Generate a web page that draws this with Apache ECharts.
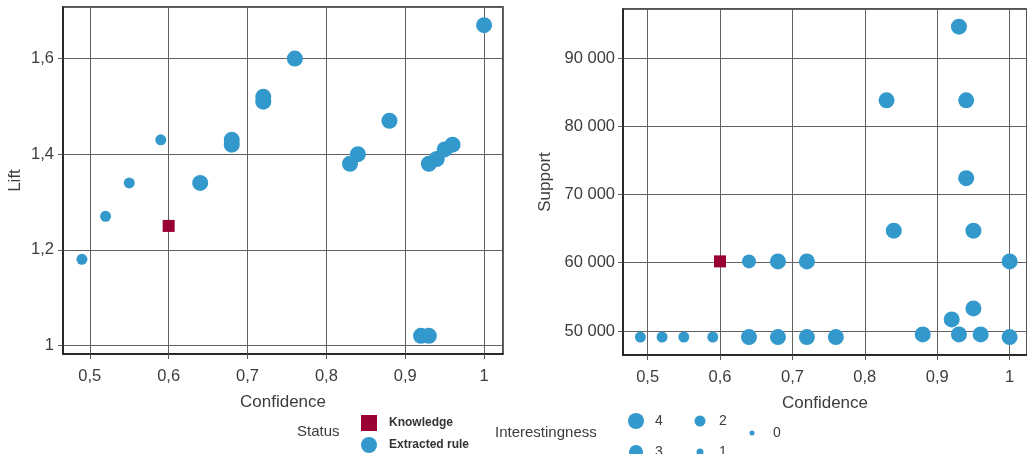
<!DOCTYPE html>
<html>
<head>
<meta charset="utf-8">
<script src="https://cdn.jsdelivr.net/npm/echarts@6/dist/echarts.min.js"></script>
<style>
  html, body { margin: 0; padding: 0; background: #fff; }
  #chart { width: 1027px; height: 454px; }
</style>
</head>
<body>
<div id="chart"></div>
<script>
// Extracted rules plotted as lift against confidence
const liftConfidence = [0.49, 0.52, 0.55, 0.59, 0.64, 0.68, 0.68, 0.72, 0.72, 0.76, 0.83, 0.84, 0.88, 0.92, 0.93, 0.93, 0.94, 0.95, 0.96, 1.00];
const liftValues     = [1.18, 1.27, 1.34, 1.43, 1.34, 1.43, 1.42, 1.52, 1.51, 1.60, 1.38, 1.40, 1.47, 1.02, 1.02, 1.38, 1.39, 1.41, 1.42, 1.67];
const liftInterest   = [2, 2, 2, 2, 4, 4, 4, 4, 4, 4, 4, 4, 4, 4, 4, 4, 4, 4, 4, 4];

// Extracted rules plotted as support against confidence
const supportConfidence = [0.49, 0.52, 0.55, 0.59, 0.64, 0.68, 0.72, 0.76, 0.64, 0.68, 0.72, 0.83, 0.84, 0.88, 0.92, 0.93, 0.93, 0.94, 0.94, 0.95, 0.95, 0.96, 1.00, 1.00];
const supportValues     = [49100, 49100, 49100, 49100, 49100, 49100, 49100, 49100, 60200, 60200, 60200, 83800, 64700, 49500, 51700, 49500, 94600, 83800, 72400, 64700, 53300, 49500, 60200, 49100];
const supportInterest   = [2, 2, 2, 2, 4, 4, 4, 4, 3, 4, 4, 4, 4, 4, 4, 4, 4, 4, 4, 4, 4, 4, 4, 4];

// The rule already known beforehand
const knowledgeConfidence = [0.60];
const knowledgeLift       = [1.25];
const knowledgeSupport    = [60200];

const interestLevels = [4, 3, 2, 1, 0];

// ---- styling ----
const FONT = '"Liberation Sans", Arial, sans-serif';
const BLUE = '#3399CC';
const CRIMSON = '#990033';
const TEXT = '#3c3c3c';
const dotSize = { 0: 5, 1: 7, 2: 11, 3: 14, 4: 16 };

const decimalComma = v => String(Number(v.toFixed(2))).replace('.', ',');
const spacedThousands = v => String(Math.round(v)).replace(/\B(?=(\d{3})+(?!\d))/g, ' ');

function axis(gridIndex, name, min, max, step, fmt, nameGap, labelMargin) {
  return {
    type: 'value', gridIndex, name, nameLocation: 'middle', nameGap,
    nameTextStyle: { fontFamily: FONT, fontSize: 17, color: TEXT },
    min, max, minInterval: step, maxInterval: step, splitNumber: 5,
    axisLine: { show: true, onZero: false, lineStyle: { color: '#1a1a1a', width: 1.5 } },
    axisTick: { show: true, length: 5, lineStyle: { color: '#555' } },
    axisLabel: { fontFamily: FONT, fontSize: 16.5, color: TEXT, margin: labelMargin,
                 formatter: fmt, showMinLabel: false, showMaxLabel: false },
    splitLine: { show: true, lineStyle: { color: '#616161', width: 1 } }
  };
}

const zip3 = (a, b, c) => a.map((x, i) => [x, b[i], c[i]]);

const interestGraphic = [];
const legendSlots = { 4: [636, 421], 3: [636, 452], 2: [700, 421], 1: [700, 452], 0: [752, 433] };
interestLevels.forEach(lv => {
  const [cx, cy] = legendSlots[lv];
  interestGraphic.push({
    type: 'circle', shape: { cx, cy, r: dotSize[lv] / 2 }, style: { fill: BLUE }
  });
  interestGraphic.push({
    type: 'text', x: cx + (lv === 0 ? 21 : 19), y: cy,
    style: { text: String(lv), fontFamily: FONT, fontSize: 14, fill: TEXT, verticalAlign: 'middle' }
  });
});

const chart = echarts.init(document.getElementById('chart'), null, { renderer: 'canvas' });
chart.setOption({
  animation: false,
  backgroundColor: '#fff',
  grid: [
    { left: 63, top: 7, width: 440, height: 347, show: true, borderColor: '#1a1a1a', borderWidth: 1.5, backgroundColor: 'transparent' },
    { left: 623, top: 9, width: 409, height: 346, show: true, borderColor: '#1a1a1a', borderWidth: 1.5, backgroundColor: 'transparent' }
  ],
  xAxis: [
    axis(0, 'Confidence', 0.466, 1.024, 0.1, decimalComma, 40, 14),
    axis(1, 'Confidence', 0.466, 1.024, 0.1, decimalComma, 40, 14)
  ],
  yAxis: [
    axis(0, 'Lift', 0.982, 1.708, 0.2, decimalComma, 39, 9),
    axis(1, 'Support', 46480, 97185, 10000, spacedThousands, 69, 8)
  ],
  legend: {
    orient: 'vertical', left: 361, top: 415, padding: 0, itemGap: 6, itemWidth: 16, itemHeight: 16,
    selectedMode: false,
    textStyle: { fontFamily: FONT, fontSize: 12, fontWeight: 'bold', color: '#333', padding: [0, 0, 0, 7] },
    data: [{ name: 'Knowledge', icon: 'rect' }, { name: 'Extracted rule', icon: 'circle' }]
  },
  graphic: [
    { type: 'text', x: 297, y: 432, style: { text: 'Status', fontFamily: FONT, fontSize: 15, fill: TEXT, verticalAlign: 'middle' } },
    { type: 'text', x: 495, y: 433, style: { text: 'Interestingness', fontFamily: FONT, fontSize: 15, fill: TEXT, verticalAlign: 'middle' } },
    ...interestGraphic
  ],
  series: [
    { name: 'Extracted rule', type: 'scatter', xAxisIndex: 0, yAxisIndex: 0,
      data: zip3(liftConfidence, liftValues, liftInterest),
      symbolSize: v => dotSize[v[2]], itemStyle: { color: BLUE, opacity: 1 } },
    { name: 'Knowledge', type: 'scatter', xAxisIndex: 0, yAxisIndex: 0, symbol: 'rect',
      data: knowledgeConfidence.map((x, i) => [x, knowledgeLift[i]]),
      symbolSize: 12, itemStyle: { color: CRIMSON, opacity: 1 } },
    { name: 'Extracted rule', type: 'scatter', xAxisIndex: 1, yAxisIndex: 1,
      data: zip3(supportConfidence, supportValues, supportInterest),
      symbolSize: v => dotSize[v[2]], itemStyle: { color: BLUE, opacity: 1 } },
    { name: 'Knowledge', type: 'scatter', xAxisIndex: 1, yAxisIndex: 1, symbol: 'rect',
      data: knowledgeConfidence.map((x, i) => [x, knowledgeSupport[i]]),
      symbolSize: 12, itemStyle: { color: CRIMSON, opacity: 1 } }
  ]
});
</script>
</body>
</html>
